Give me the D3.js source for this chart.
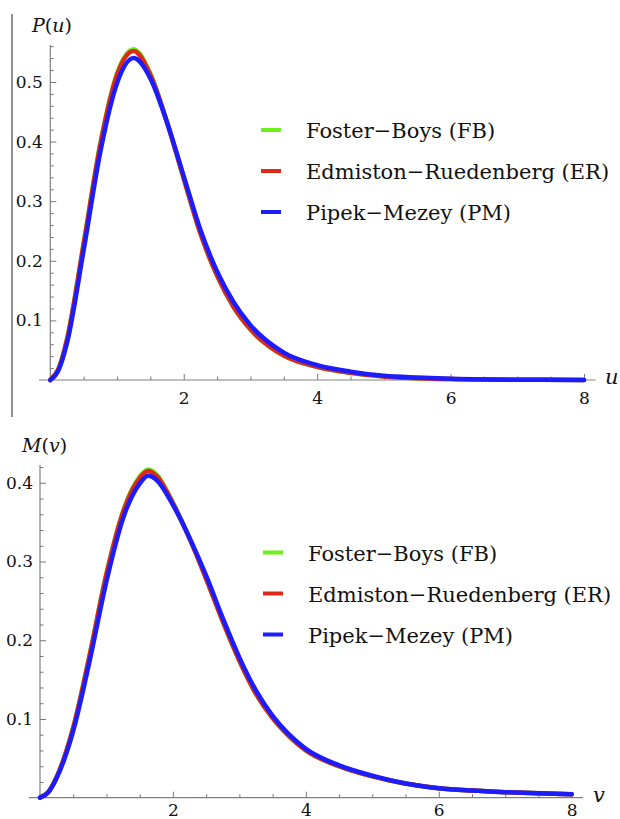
<!DOCTYPE html>
<html>
<head>
<meta charset="utf-8">
<script src="https://cdn.jsdelivr.net/npm/d3@7"></script>
<style>
  body { margin: 0; background: #fff; }
  svg { display: block; }
  text { font-family: "DejaVu Serif", serif; }
  .tick text { font-family: "DejaVu Serif", serif; font-size: 17px; fill: #111; }
  .tick line { stroke: #777; }
</style>
</head>
<body>
<svg width="620" height="819"></svg>
<script>
// two stacked distribution plots
var uVals = [0, 0.125, 0.25, 0.5, 0.75, 1, 1.25, 1.5, 1.75, 2, 2.25, 2.5, 2.75, 3, 3.5, 4, 4.5, 5, 5.5, 6, 7, 8];
var pFB = [0, 0.019, 0.068, 0.230, 0.397, 0.514, 0.555, 0.514, 0.433, 0.338, 0.246, 0.175, 0.122, 0.085, 0.041, 0.022, 0.012, 0.006, 0.003, 0.0015, 0.0004, 0.0001];
var pER = [0, 0.019, 0.068, 0.228, 0.395, 0.512, 0.552, 0.512, 0.432, 0.338, 0.246, 0.175, 0.122, 0.085, 0.041, 0.022, 0.012, 0.006, 0.003, 0.0015, 0.0004, 0.0001];
var pPM = [0, 0.017, 0.062, 0.218, 0.383, 0.498, 0.540, 0.506, 0.432, 0.342, 0.252, 0.182, 0.130, 0.092, 0.046, 0.025, 0.014, 0.007, 0.004, 0.002, 0.0005, 0.0001];

var vVals = [0, 0.125, 0.25, 0.5, 0.75, 1, 1.25, 1.5, 1.625, 1.75, 2, 2.25, 2.5, 2.75, 3, 3.25, 3.5, 3.75, 4, 4.5, 5, 5.5, 6, 6.5, 7, 7.5, 8];
var mFB = [0, 0.007, 0.026, 0.089, 0.183, 0.285, 0.364, 0.408, 0.417, 0.411, 0.375, 0.330, 0.278, 0.224, 0.174, 0.132, 0.101, 0.078, 0.060, 0.040, 0.027, 0.018, 0.012, 0.009, 0.007, 0.0055, 0.0044];
var mER = [0, 0.007, 0.026, 0.089, 0.182, 0.284, 0.363, 0.406, 0.415, 0.409, 0.374, 0.329, 0.278, 0.224, 0.174, 0.132, 0.101, 0.078, 0.060, 0.040, 0.027, 0.018, 0.012, 0.009, 0.007, 0.0055, 0.0044];
var mPM = [0, 0.007, 0.025, 0.085, 0.175, 0.275, 0.355, 0.399, 0.409, 0.404, 0.372, 0.330, 0.282, 0.228, 0.178, 0.136, 0.104, 0.080, 0.062, 0.041, 0.028, 0.018, 0.012, 0.009, 0.007, 0.0055, 0.0043];

var seriesNames = ["Foster\u2212Boys (FB)", "Edmiston\u2212Ruedenberg (ER)", "Pipek\u2212Mezey (PM)"];
var seriesColors = ["#6cf01a", "#dc2a1a", "#1c1cff"];

var xMajor = [2, 4, 6, 8];
var xMinor = [0.5, 1, 1.5, 2.5, 3, 3.5, 4.5, 5, 5.5, 6.5, 7, 7.5];
var pMajor = [0.1, 0.2, 0.3, 0.4, 0.5];
var mMajor = [0.1, 0.2, 0.3, 0.4];

var svg = d3.select("svg");

function minorsBetween(top, majors) {
  // every 0.02 that is not a major tick
  var out = [];
  for (var i = 1; i * 0.02 <= top + 1e-9; i++) {
    var v = +(i * 0.02).toFixed(2);
    if (majors.indexOf(v) < 0) out.push(v);
  }
  return out;
}

function drawPanel(cfg) {
  var g = svg.append("g").attr("class", cfg.cls);
  var x = d3.scaleLinear().domain([0, 8]).range(cfg.xRange);
  var y = d3.scaleLinear().domain([0, cfg.yTop]).range(cfg.yRange);

  // axis lines
  g.append("line")
    .attr("x1", x(-0.17)).attr("x2", x(8.17))
    .attr("y1", y(0)).attr("y2", y(0))
    .attr("stroke", "#808080").attr("stroke-width", 1.2);
  g.append("line")
    .attr("x1", x(0)).attr("x2", x(0))
    .attr("y1", y(0)).attr("y2", y(cfg.yTop))
    .attr("stroke", "#808080").attr("stroke-width", 1.2);

  g.append("g")
    .attr("transform", "translate(0," + y(0) + ")")
    .call(d3.axisBottom(x).tickValues(xMinor).tickSizeInner(-3.5).tickSizeOuter(0).tickFormat(""))
    .call(function(s) { s.select(".domain").remove(); });
  g.append("g")
    .attr("transform", "translate(0," + y(0) + ")")
    .call(d3.axisBottom(x).tickValues(xMajor).tickSizeInner(-6).tickSizeOuter(0).tickPadding(cfg.xPad).tickFormat(d3.format("d")))
    .call(function(s) { s.select(".domain").remove(); });

  g.append("g")
    .attr("transform", "translate(" + x(0) + ",0)")
    .call(d3.axisLeft(y).tickValues(minorsBetween(cfg.yTop, cfg.yMajor)).tickSizeInner(-3.5).tickSizeOuter(0).tickFormat(""))
    .call(function(s) { s.select(".domain").remove(); });
  g.append("g")
    .attr("transform", "translate(" + x(0) + ",0)")
    .call(d3.axisLeft(y).tickValues(cfg.yMajor).tickSizeInner(-6).tickSizeOuter(0).tickPadding(cfg.yPad).tickFormat(d3.format(".1f")))
    .call(function(s) { s.select(".domain").remove(); });

  var line = d3.line()
    .x(function(d) { return x(d[0]); })
    .y(function(d) { return y(d[1]); })
    .curve(d3.curveMonotoneX);

  cfg.series.forEach(function(vals, i) {
    g.append("path")
      .datum(cfg.xs.map(function(v, j) { return [v, vals[j]]; }))
      .attr("d", line)
      .attr("fill", "none")
      .attr("stroke", seriesColors[i])
      .attr("stroke-width", 4.5)
      .attr("stroke-linejoin", "round")
      .attr("stroke-linecap", "round");
  });

  // axis names
  var yl = g.append("text")
    .attr("x", cfg.yLabel[0]).attr("y", cfg.yLabel[1])
    .attr("font-size", 19).attr("fill", "#111");
  yl.append("tspan").attr("font-style", "italic").text(cfg.yName[0]);
  yl.append("tspan").text("(");
  yl.append("tspan").attr("font-style", "italic").text(cfg.yName[1]);
  yl.append("tspan").text(")");

  g.append("text")
    .attr("x", cfg.xLabel[0]).attr("y", cfg.xLabel[1])
    .attr("font-size", 21).attr("font-style", "italic").attr("fill", "#111")
    .text(cfg.xName);

  // legend
  var leg = g.append("g").attr("class", "legend")
    .attr("transform", "translate(" + cfg.legend[0] + "," + cfg.legend[1] + ")");
  seriesNames.forEach(function(name, i) {
    leg.append("line")
      .attr("x1", 0).attr("x2", 20)
      .attr("y1", i * 41).attr("y2", i * 41)
      .attr("stroke", seriesColors[i]).attr("stroke-width", 4);
    leg.append("text")
      .attr("x", 45).attr("y", i * 41 + 8)
      .attr("font-size", 21).attr("fill", "#111")
      .text(name);
  });
}

(function() {
  // thin frame line on the left of the upper plot
  svg.append("line")
    .attr("x1", 12).attr("x2", 12).attr("y1", 14).attr("y2", 417)
    .attr("stroke", "#555").attr("stroke-width", 1.3);

  drawPanel({
    cls: "top",
    xRange: [50.3, 584], yRange: [380, 45], yTop: 0.562,
    yMajor: pMajor, yPad: 7.5, xPad: 12,
    xs: uVals, series: [pFB, pER, pPM],
    yName: ["P", "u"], yLabel: [32, 32],
    xName: "u", xLabel: [605, 384],
    legend: [261, 130]
  });

  drawPanel({
    cls: "bottom",
    xRange: [40, 571.7], yRange: [797.7, 465], yTop: 0.4226,
    yMajor: mMajor, yPad: 7, xPad: 6,
    xs: vVals, series: [mFB, mER, mPM],
    yName: ["M", "v"], yLabel: [22, 452],
    xName: "v", xLabel: [593, 802],
    legend: [263, 552.5]
  });
})();
</script>
</body>
</html>
